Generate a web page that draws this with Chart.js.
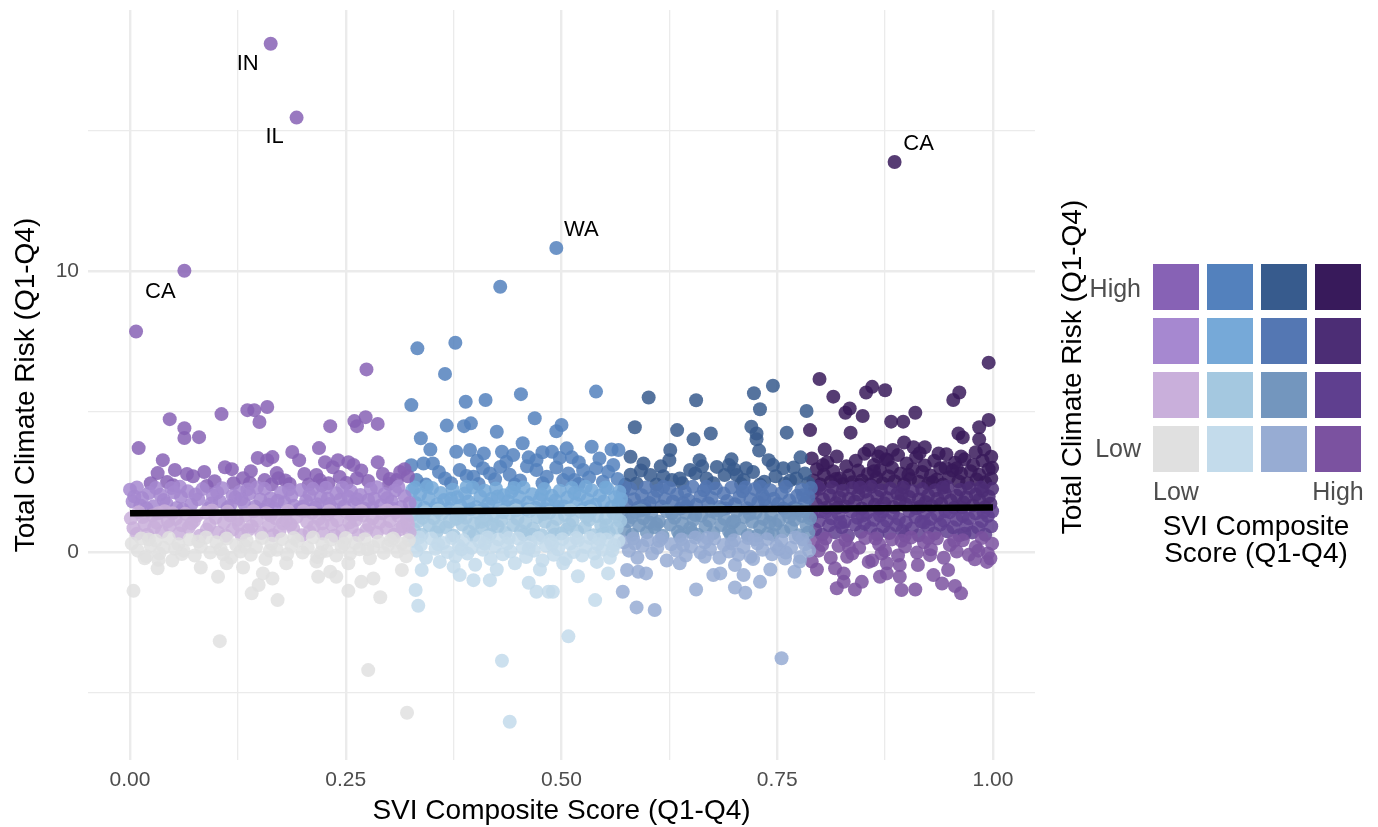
<!DOCTYPE html>
<html>
<head>
<meta charset="utf-8">
<title>SVI vs Total Climate Risk</title>
<script src="https://cdn.jsdelivr.net/npm/chart.js@4.4.1/dist/chart.umd.min.js"></script>
<style>
  body { margin: 0; background: #fff; font-family: "Liberation Sans", Arial, Helvetica, sans-serif; }
  #wrap { position: relative; width: 1378px; height: 827px; overflow: hidden; }
  #chart { position: absolute; left: 0; top: 0; }
  .lg { position: absolute; white-space: nowrap; }
  .tile { position: absolute; width: 44px; height: 44px; }
</style>
</head>
<body>
<div id="wrap">
  <canvas id="chart" width="1378" height="827"></canvas>
  <div id="legend"></div>
</div>
<script>
// Points: [SVI composite score, total climate risk]
// grouped by SVI column of the bivariate palette (Q1 = low ... Q4 = high)
const pointsSviQ1 = [
  [0.163,18.09],[0.193,15.46],[0.063,10.01],[0.007,7.85],[0.274,6.50],
  [0.046,4.73],[0.063,4.41],[0.063,4.06],[0.080,4.09],[0.010,3.70],[0.106,4.91],[0.136,5.05],[0.144,5.05],[0.159,5.16],[0.150,4.63],
  [0.232,4.48],[0.260,4.66],[0.273,4.80],[0.263,4.48],[0.287,4.56],[0.219,3.70],[0.188,3.56],[0.038,3.27],[0.032,2.81],[0.052,2.92],
  [0.066,2.78],[0.073,2.70],[0.043,2.49],[0.050,2.38],[0.089,2.35],[0.110,3.02],[0.118,2.95],[0.140,2.88],[0.148,3.35],[0.159,3.27],
  [0.165,3.38],[0.131,2.63],[0.139,2.46],[0.156,2.56],[0.164,2.40],[0.170,2.81],[0.172,2.63],[0.196,3.27],[0.202,2.78],[0.216,2.74],
  [0.207,2.40],[0.222,2.38],[0.226,3.20],[0.235,3.02],[0.241,3.27],[0.253,3.20],[0.259,3.10],[0.243,2.67],[0.251,2.46],[0.263,2.63],
  [0.276,2.53],[0.287,3.20],[0.293,2.78],[0.301,2.60],[0.313,2.85],[0.309,2.56],[0.185,2.42],[0.220,2.56],[0.318,2.95],[0.322,2.70],
  [0.098,2.52],[0.120,2.45],[0.024,2.45],[0.086,2.85],[0.180,2.55],[0.230,2.45],[0.268,2.90],[0.300,2.42],
  [0.000,2.22],[0.003,1.80],[0.014,1.92],[0.022,2.10],[0.027,1.63],[0.035,2.04],[0.042,1.74],[0.048,2.28],[0.054,1.57],[0.059,1.97],
  [0.067,2.16],[0.071,1.69],[0.079,1.88],[0.084,2.24],[0.091,1.56],[0.096,2.01],[0.104,1.81],[0.107,2.27],[0.116,1.65],[0.122,1.94],
  [0.127,2.14],[0.132,1.73],[0.138,2.07],[0.145,1.61],[0.151,1.87],[0.156,2.25],[0.163,1.91],[0.167,1.55],[0.175,2.11],[0.179,1.77],
  [0.187,2.00],[0.190,1.65],[0.198,2.21],[0.204,1.83],[0.208,2.04],[0.215,1.59],[0.221,1.96],[0.227,2.29],[0.231,1.71],[0.239,2.09],
  [0.244,1.87],[0.248,1.62],[0.256,2.17],[0.260,1.75],[0.267,2.03],[0.271,1.55],[0.279,2.24],[0.283,1.91],[0.291,1.67],[0.295,2.07],
  [0.303,1.81],[0.307,2.19],[0.314,1.60],[0.318,1.99],[0.012,1.66],[0.051,2.13],[0.094,1.73],[0.136,2.23],[0.171,1.83],[0.217,1.70],
  [0.253,1.97],[0.286,2.31],[0.304,1.54],[0.061,1.52],[0.119,2.01],[0.154,1.51],[0.236,1.53],[0.276,1.85],[0.196,1.52],[0.005,1.98],
  [0.008,2.30],[0.019,1.55],[0.030,2.28],[0.039,1.85],[0.058,2.32],[0.076,2.05],[0.101,2.12],[0.113,1.58],[0.129,1.88],[0.147,2.30],
  [0.160,1.68],[0.184,2.22],[0.201,1.62],[0.212,2.25],[0.229,1.90],[0.246,2.30],[0.263,1.88],[0.281,1.58],[0.298,1.92],[0.311,2.32],
  [0.324,1.75],
  [0.001,1.20],[0.004,0.85],[0.010,1.42],[0.017,0.98],[0.020,0.62],[0.026,1.30],[0.031,1.05],[0.037,0.72],[0.040,1.45],[0.046,0.93],
  [0.053,1.18],[0.057,0.66],[0.064,1.36],[0.068,0.88],[0.074,1.10],[0.081,0.58],[0.087,1.40],[0.092,0.97],[0.099,1.22],[0.102,0.70],
  [0.109,1.05],[0.113,1.44],[0.119,0.80],[0.124,1.15],[0.129,0.62],[0.134,1.32],[0.141,0.92],[0.147,1.12],[0.152,0.68],[0.158,1.38],
  [0.161,0.95],[0.169,1.20],[0.173,0.74],[0.177,1.02],[0.183,1.46],[0.189,0.84],[0.193,1.25],[0.199,0.60],[0.205,1.08],[0.211,1.40],
  [0.213,0.90],[0.219,1.18],[0.224,0.66],[0.229,1.33],[0.234,0.98],[0.240,1.12],[0.246,0.75],[0.251,1.42],[0.257,0.88],[0.262,1.15],
  [0.265,0.60],[0.270,1.30],[0.277,0.96],[0.281,1.20],[0.286,0.70],[0.292,1.38],[0.297,0.86],[0.301,1.10],[0.306,0.62],[0.311,1.28],
  [0.316,0.92],[0.321,1.15],[0.008,0.65],[0.033,1.38],[0.060,0.95],[0.077,1.28],[0.111,0.58],[0.143,1.45],[0.166,0.60],[0.201,1.45],
  [0.237,0.58],[0.268,1.45],[0.298,1.48],[0.324,0.70],[0.044,1.10],[0.089,0.80],[0.126,0.98],[0.181,1.12],[0.223,1.02],[0.258,1.28],
  [0.312,0.80],[0.015,1.25],[0.028,0.88],[0.049,1.38],[0.071,1.02],[0.095,1.48],[0.116,1.30],[0.137,0.78],[0.163,1.30],[0.186,0.98],
  [0.208,0.72],[0.231,1.45],[0.254,1.05],[0.274,0.78],[0.289,1.05],[0.308,1.42],[0.322,0.98],
  [0.002,0.30],[0.009,0.05],[0.013,0.48],[0.019,-0.15],[0.024,0.22],[0.030,0.40],[0.034,-0.05],[0.039,0.15],[0.045,0.50],[0.049,-0.30],
  [0.056,0.28],[0.062,0.05],[0.069,0.45],[0.075,-0.12],[0.082,0.20],[0.088,0.52],[0.093,-0.02],[0.100,0.35],[0.105,0.10],[0.112,0.48],
  [0.117,-0.20],[0.123,0.25],[0.128,0.02],[0.135,0.42],[0.140,-0.10],[0.146,0.18],[0.153,0.50],[0.157,-0.25],[0.164,0.30],[0.170,0.08],
  [0.176,0.46],[0.182,-0.08],[0.187,0.22],[0.194,0.40],[0.200,-0.02],[0.206,0.15],[0.212,0.52],[0.217,-0.18],[0.223,0.28],[0.228,0.05],
  [0.233,0.44],[0.239,-0.12],[0.245,0.20],[0.250,0.50],[0.255,-0.05],[0.261,0.32],[0.266,0.10],[0.272,0.46],[0.278,-0.22],[0.282,0.18],
  [0.288,0.38],[0.294,-0.03],[0.299,0.25],[0.305,0.48],[0.310,0.02],[0.315,0.30],[0.320,-0.15],[0.323,0.42],
  [0.022,0.45],[0.052,0.12],[0.079,0.38],[0.108,-0.08],[0.133,0.22],[0.162,0.05],[0.190,0.50],[0.221,-0.02],[0.248,0.30],[0.275,0.10],
  [0.302,0.42],[0.318,0.15],
  [0.004,-1.38],[0.017,-0.22],[0.033,-0.28],[0.032,-0.58],[0.060,-0.07],[0.082,-0.55],[0.102,-0.88],[0.104,-3.17],[0.112,-0.40],
  [0.131,-0.55],[0.141,-1.47],[0.149,-1.17],[0.154,-0.76],[0.165,-0.94],[0.171,-1.71],[0.181,-0.40],[0.216,-0.34],[0.218,-0.88],
  [0.232,-0.70],[0.239,-0.88],[0.253,-1.38],[0.253,-0.40],[0.268,-1.06],[0.276,-4.20],[0.282,-0.94],[0.290,-1.61],[0.315,-0.64],
  [0.321,-5.72]
];

const pointsSviQ2 = [
  [0.494,10.82],[0.429,9.44],[0.333,7.25],[0.377,7.45],[0.365,6.34],[0.326,5.23],[0.389,5.35],[0.412,5.41],[0.453,5.62],[0.540,5.71],
  [0.469,4.76],[0.500,4.52],[0.367,4.50],[0.387,4.48],[0.395,4.58],[0.425,4.28],[0.494,4.30],[0.337,4.05],[0.348,3.65],[0.378,3.57],
  [0.394,3.63],[0.410,3.51],[0.431,3.57],[0.444,3.45],[0.455,3.87],[0.462,3.37],[0.471,3.27],[0.489,3.57],[0.506,3.69],[0.512,3.37],
  [0.535,3.75],[0.544,3.33],[0.326,3.09],[0.340,3.15],[0.351,3.15],[0.365,2.62],[0.382,2.92],[0.398,2.68],[0.409,2.98],[0.423,2.59],
  [0.429,3.03],[0.436,3.21],[0.446,2.40],[0.471,2.92],[0.483,2.68],[0.494,3.01],[0.502,2.56],[0.515,2.56],[0.525,2.92],[0.540,2.98],
  [0.554,2.86],[0.390,2.71],[0.332,2.56],[0.566,3.63],
  [0.358,2.85],[0.372,2.45],[0.404,2.42],[0.417,2.80],[0.440,2.75],[0.452,2.55],[0.460,3.05],[0.478,2.45],[0.508,2.80],[0.520,2.42],
  [0.532,2.65],[0.548,2.50],[0.560,3.10],[0.565,2.60],[0.343,2.40],[0.478,3.55],[0.520,3.20],[0.558,3.65],[0.498,3.35],[0.402,3.25],
  [0.327,2.20],[0.331,1.75],[0.336,2.05],[0.341,1.58],[0.346,1.92],[0.350,2.28],[0.356,1.70],[0.360,2.10],[0.364,1.85],[0.369,1.55],
  [0.374,2.22],[0.379,1.95],[0.383,1.65],[0.388,2.08],[0.392,1.80],[0.397,2.30],[0.401,1.60],[0.406,1.98],[0.411,2.18],[0.415,1.72],
  [0.419,1.90],[0.424,2.26],[0.428,1.56],[0.433,2.02],[0.438,1.82],[0.442,2.14],[0.447,1.66],[0.451,1.96],[0.456,2.30],[0.461,1.76],
  [0.466,2.06],[0.470,1.58],[0.475,1.88],[0.480,2.24],[0.484,1.70],[0.489,2.00],[0.493,1.84],[0.498,2.18],[0.503,1.62],[0.507,1.94],
  [0.512,2.28],[0.517,1.74],[0.521,2.04],[0.526,1.55],[0.530,1.86],[0.535,2.20],[0.539,1.68],[0.544,2.00],[0.549,1.80],[0.553,2.26],
  [0.558,1.60],[0.562,1.95],[0.567,2.15],[0.344,2.32],[0.395,1.52],[0.437,1.60],[0.482,1.52],[0.528,2.32],[0.566,1.72],
  [0.330,2.30],[0.353,1.55],[0.372,1.90],[0.390,2.32],[0.409,1.52],[0.426,1.98],[0.445,2.28],[0.459,1.52],[0.477,2.05],[0.496,1.60],
  [0.515,2.10],[0.533,1.62],[0.551,2.30],[0.569,1.88],
  [0.326,1.30],[0.329,0.80],[0.334,1.10],[0.338,0.62],[0.342,1.42],[0.347,0.95],[0.352,1.20],[0.355,0.70],[0.361,1.35],[0.366,0.88],
  [0.370,1.08],[0.375,0.58],[0.380,1.45],[0.385,0.98],[0.389,1.22],[0.393,0.72],[0.399,1.02],[0.403,1.40],[0.408,0.85],[0.413,1.15],
  [0.417,0.62],[0.421,1.30],[0.426,0.92],[0.430,1.12],[0.435,0.68],[0.440,1.38],[0.444,0.96],[0.449,1.18],[0.453,0.75],[0.458,1.05],
  [0.463,1.46],[0.467,0.84],[0.472,1.25],[0.477,0.60],[0.481,1.08],[0.486,1.40],[0.490,0.90],[0.495,1.18],[0.500,0.66],[0.504,1.32],
  [0.509,0.98],[0.513,1.12],[0.518,0.74],[0.523,1.42],[0.527,0.88],[0.532,1.15],[0.537,0.60],[0.541,1.28],[0.546,0.95],[0.551,1.20],
  [0.555,0.70],[0.560,1.38],[0.564,0.86],[0.568,1.10],[0.357,1.48],[0.398,0.58],[0.447,1.48],[0.492,0.62],[0.534,1.45],[0.378,1.18],
  [0.420,0.98],[0.466,0.62],[0.510,1.48],[0.552,0.95],[0.339,1.22],[0.358,0.90],[0.383,1.30],[0.407,1.08],[0.432,1.42],[0.456,0.62],
  [0.479,1.35],[0.506,0.80],[0.529,1.25],[0.548,0.65],[0.563,1.25],
  [0.328,0.40],[0.332,0.05],[0.337,0.25],[0.343,-0.20],[0.349,0.48],[0.354,0.12],[0.359,-0.35],[0.363,0.32],[0.368,0.00],[0.373,0.50],
  [0.377,-0.15],[0.381,0.22],[0.386,0.42],[0.391,-0.05],[0.396,0.15],[0.400,-0.45],[0.405,0.38],[0.409,0.08],[0.414,0.52],[0.418,-0.25],
  [0.423,0.20],[0.427,0.45],[0.432,-0.08],[0.437,0.30],[0.441,0.02],[0.446,-0.40],[0.450,0.48],[0.455,0.15],[0.459,-0.18],[0.464,0.35],
  [0.468,0.05],[0.473,0.50],[0.478,-0.30],[0.482,0.22],[0.487,0.40],[0.491,-0.10],[0.496,0.10],[0.501,0.46],[0.505,-0.25],[0.510,0.30],
  [0.514,0.00],[0.519,0.42],[0.524,-0.12],[0.528,0.18],[0.533,0.50],[0.538,-0.05],[0.542,0.28],[0.547,0.08],[0.552,0.45],[0.556,-0.20],
  [0.561,0.25],[0.566,0.40],[0.335,0.52],[0.357,0.28],[0.384,0.10],[0.411,0.30],[0.439,0.50],[0.462,0.12],[0.489,0.28],[0.517,0.50],
  [0.544,0.45],[0.559,0.05],
  [0.331,-1.35],[0.334,-1.91],[0.338,-0.64],[0.375,-0.52],[0.382,-0.82],[0.398,-1.00],[0.417,-1.00],[0.425,-0.62],[0.431,-3.87],
  [0.440,-6.04],[0.462,-1.09],[0.471,-1.41],[0.485,-1.41],[0.475,-0.62],[0.508,-3.00],[0.539,-1.71],[0.519,-0.86],[0.502,-0.40],
  [0.541,-0.35],[0.554,-0.76],[0.490,-1.41]
];

const pointsSviQ3 = [
  [0.601,5.50],[0.656,5.40],[0.723,5.65],[0.745,5.92],[0.730,5.08],[0.784,5.02],[0.585,4.44],[0.634,4.34],[0.720,4.46],[0.726,4.22],
  [0.761,4.25],[0.673,4.22],[0.653,4.01],[0.726,4.01],[0.729,3.61],[0.740,3.27],[0.757,2.98],[0.777,3.37],[0.626,3.63],[0.660,3.27],
  [0.697,3.30],[0.714,2.98],[0.625,3.27],[0.595,3.15],[0.603,2.74],[0.580,3.39],[0.574,2.40],[0.587,2.44],[0.610,2.40],[0.628,2.56],
  [0.637,2.62],[0.649,2.92],[0.668,2.62],[0.680,3.03],[0.689,2.74],[0.703,2.74],[0.711,2.56],[0.759,2.44],[0.769,3.01],
  [0.592,2.90],[0.615,3.05],[0.640,2.45],[0.655,2.80],[0.676,2.45],[0.694,3.10],[0.708,2.42],[0.722,2.85],[0.735,2.50],[0.748,2.70],
  [0.765,2.55],[0.782,2.80],[0.786,2.45],[0.618,2.70],[0.663,3.05],[0.700,2.95],[0.745,3.10],[0.580,2.75],[0.730,2.40],[0.772,2.62],
  [0.571,2.10],[0.575,1.70],[0.580,2.25],[0.584,1.88],[0.589,1.58],[0.593,2.02],[0.598,2.30],[0.602,1.75],[0.607,1.95],[0.611,2.18],
  [0.616,1.62],[0.620,1.90],[0.625,2.28],[0.629,1.80],[0.634,2.05],[0.638,1.55],[0.643,2.15],[0.647,1.85],[0.652,2.32],[0.656,1.68],
  [0.661,1.98],[0.665,2.20],[0.670,1.74],[0.674,1.92],[0.679,2.26],[0.683,1.60],[0.688,2.08],[0.692,1.82],[0.697,2.30],[0.701,1.70],
  [0.706,1.96],[0.710,2.16],[0.715,1.56],[0.719,1.88],[0.724,2.24],[0.728,1.78],[0.733,2.02],[0.737,1.64],[0.742,2.20],[0.746,1.90],
  [0.751,1.72],[0.755,2.10],[0.760,2.32],[0.764,1.84],[0.769,1.58],[0.773,2.00],[0.778,2.22],[0.782,1.76],[0.786,1.95],[0.789,2.28],
  [0.597,1.52],[0.641,1.75],[0.686,1.52],[0.731,2.32],[0.775,1.52],
  [0.573,2.30],[0.596,1.65],[0.618,2.32],[0.645,1.62],[0.668,2.32],[0.690,1.55],[0.713,2.30],[0.735,1.88],[0.757,1.55],[0.780,2.02],
  [0.570,1.30],[0.573,0.80],[0.577,1.10],[0.582,0.62],[0.586,1.42],[0.590,0.95],[0.595,1.20],[0.599,0.70],[0.604,1.35],[0.608,0.88],
  [0.613,1.08],[0.617,0.58],[0.622,1.45],[0.626,0.98],[0.631,1.22],[0.635,0.72],[0.640,1.02],[0.644,1.40],[0.649,0.85],[0.653,1.15],
  [0.658,0.62],[0.662,1.30],[0.667,0.92],[0.671,1.12],[0.676,0.68],[0.680,1.38],[0.685,0.96],[0.689,1.18],[0.694,0.75],[0.698,1.05],
  [0.703,1.46],[0.707,0.84],[0.712,1.25],[0.716,0.60],[0.721,1.08],[0.725,1.40],[0.730,0.90],[0.734,1.18],[0.739,0.66],[0.743,1.32],
  [0.748,0.98],[0.752,1.12],[0.757,0.74],[0.761,1.42],[0.766,0.88],[0.770,1.15],[0.775,0.60],[0.779,1.28],[0.784,0.95],[0.788,1.20],
  [0.592,1.48],[0.637,0.58],[0.683,1.48],[0.727,0.58],[0.772,1.48],[0.610,1.00],[0.655,1.32],[0.700,1.10],[0.745,0.62],[0.781,1.45],
  [0.581,1.25],[0.602,1.05],[0.628,1.38],[0.651,0.70],[0.674,1.45],[0.696,0.62],[0.718,1.35],[0.741,1.05],[0.764,1.25],[0.786,0.70],
  [0.572,0.35],[0.578,0.05],[0.583,0.48],[0.588,-0.20],[0.594,0.22],[0.600,0.42],[0.605,-0.05],[0.611,0.15],[0.616,0.50],[0.622,-0.30],
  [0.627,0.28],[0.633,0.05],[0.639,0.45],[0.644,-0.12],[0.650,0.20],[0.655,0.52],[0.661,-0.02],[0.666,0.35],[0.672,0.10],[0.677,0.48],
  [0.683,-0.20],[0.688,0.25],[0.694,0.02],[0.700,0.42],[0.705,-0.10],[0.711,0.18],[0.716,0.50],[0.722,-0.25],[0.727,0.30],[0.733,0.08],
  [0.738,0.46],[0.744,-0.08],[0.749,0.22],[0.755,0.40],[0.760,-0.02],[0.766,0.15],[0.771,0.52],[0.777,-0.18],[0.782,0.28],[0.787,0.05],
  [0.585,0.30],[0.613,0.40],[0.641,0.25],[0.669,0.50],[0.697,0.30],[0.724,0.45],[0.752,0.10],[0.779,0.45],
  [0.571,-1.41],[0.587,-1.97],[0.608,-2.06],[0.576,-0.64],[0.589,-0.70],[0.598,-0.76],[0.637,-0.40],[0.656,-1.33],[0.676,-0.82],
  [0.684,-0.76],[0.701,-0.46],[0.711,-0.82],[0.701,-1.26],[0.713,-1.45],[0.730,-1.06],[0.742,-0.62],[0.755,-3.78],[0.770,-0.70],
  [0.776,-0.34],[0.719,-0.17],[0.759,-0.23],[0.666,-0.17]
];

const pointsSviQ4 = [
  [0.886,13.88],[0.995,6.74],[0.799,6.16],[0.815,5.53],[0.860,5.88],[0.853,5.68],[0.875,5.76],[0.961,5.68],[0.954,5.41],[0.834,5.11],
  [0.829,4.96],[0.849,4.84],[0.910,4.96],[0.882,4.64],[0.896,4.64],[0.995,4.70],[0.984,4.44],[0.984,4.01],[0.960,4.22],[0.965,4.08],
  [0.835,4.25],[0.788,4.34],[0.805,3.65],[0.790,3.33],[0.856,3.63],[0.897,3.90],[0.908,3.73],[0.921,3.73],[0.884,3.63],[0.937,3.51],
  [0.998,3.39],[0.803,3.10],[0.867,3.40],[0.878,3.28],[0.963,3.40],
  [0.792,2.55],[0.796,2.95],[0.800,2.40],[0.804,2.75],[0.808,3.20],[0.812,2.50],[0.815,2.88],[0.819,3.40],[0.823,2.62],[0.826,2.42],
  [0.830,3.05],[0.833,2.72],[0.837,2.48],[0.841,3.25],[0.844,2.90],[0.848,2.55],[0.851,3.50],[0.855,2.78],[0.858,2.40],[0.862,3.10],
  [0.865,2.65],[0.869,2.92],[0.872,2.45],[0.876,3.30],[0.879,2.70],[0.883,3.00],[0.886,2.52],[0.890,3.45],[0.893,2.80],[0.897,2.42],
  [0.900,3.15],[0.904,2.60],[0.907,2.95],[0.911,3.38],[0.914,2.50],[0.918,2.85],[0.921,3.08],[0.925,2.44],[0.928,2.72],[0.932,3.25],
  [0.935,2.58],[0.939,2.98],[0.942,2.40],[0.946,3.48],[0.949,2.66],[0.953,2.90],[0.956,3.18],[0.960,2.52],[0.963,2.80],[0.967,3.30],
  [0.970,2.45],[0.974,2.88],[0.977,3.10],[0.981,2.58],[0.984,2.75],[0.988,3.25],[0.991,2.48],[0.995,2.95],[0.998,2.62],[0.818,2.60],
  [0.845,2.40],[0.870,3.55],[0.902,2.75],[0.930,2.48],[0.958,2.98],[0.980,3.55],[0.999,3.00],[0.862,2.88],[0.915,3.52],[0.945,3.00],
  [0.990,3.65],
  [0.791,2.10],[0.795,1.70],[0.799,2.25],[0.803,1.88],[0.807,1.58],[0.811,2.02],[0.814,2.30],[0.818,1.75],[0.822,1.95],[0.826,2.18],
  [0.829,1.62],[0.833,1.90],[0.837,2.28],[0.840,1.80],[0.844,2.05],[0.848,1.55],[0.852,2.15],[0.855,1.85],[0.859,2.32],[0.863,1.68],
  [0.866,1.98],[0.870,2.20],[0.874,1.74],[0.877,1.92],[0.881,2.26],[0.885,1.60],[0.889,2.08],[0.892,1.82],[0.896,2.30],[0.899,1.70],
  [0.903,1.96],[0.907,2.16],[0.911,1.56],[0.914,1.88],[0.918,2.24],[0.922,1.78],[0.925,2.02],[0.929,1.64],[0.933,2.20],[0.936,1.90],
  [0.940,1.72],[0.944,2.10],[0.947,2.32],[0.951,1.84],[0.955,1.58],[0.958,2.00],[0.962,2.22],[0.966,1.76],[0.969,1.95],[0.973,2.28],
  [0.977,1.66],[0.980,2.05],[0.984,1.86],[0.988,2.18],[0.991,1.60],[0.995,1.98],[0.999,2.25],
  [0.797,2.32],[0.820,1.58],[0.846,2.30],[0.868,1.55],[0.894,2.05],[0.916,1.62],[0.942,2.30],[0.964,1.58],[0.986,2.30],[0.997,1.72],
  [0.790,1.30],[0.794,0.80],[0.798,1.10],[0.802,0.62],[0.806,1.42],[0.810,0.95],[0.813,1.20],[0.817,0.70],[0.821,1.35],[0.825,0.88],
  [0.828,1.08],[0.832,0.58],[0.836,1.45],[0.840,0.98],[0.843,1.22],[0.847,0.72],[0.851,1.02],[0.854,1.40],[0.858,0.85],[0.862,1.15],
  [0.866,0.62],[0.869,1.30],[0.873,0.92],[0.877,1.12],[0.880,0.68],[0.884,1.38],[0.888,0.96],[0.891,1.18],[0.895,0.75],[0.899,1.05],
  [0.903,1.46],[0.906,0.84],[0.910,1.25],[0.914,0.60],[0.917,1.08],[0.921,1.40],[0.925,0.90],[0.928,1.18],[0.932,0.66],[0.936,1.32],
  [0.939,0.98],[0.943,1.12],[0.947,0.74],[0.950,1.42],[0.954,0.88],[0.958,1.15],[0.961,0.60],[0.965,1.28],[0.969,0.95],[0.972,1.20],
  [0.976,0.70],[0.980,1.38],[0.983,0.86],[0.987,1.10],[0.991,0.62],[0.994,1.28],[0.998,0.92],[0.999,1.45],
  [0.800,1.45],[0.823,1.05],[0.849,1.30],[0.872,1.45],[0.898,0.58],[0.920,1.05],[0.945,1.45],[0.967,0.65],[0.989,1.42],
  [0.792,0.35],[0.798,0.05],[0.806,0.48],[0.812,-0.20],[0.821,0.22],[0.829,0.42],[0.837,-0.05],[0.845,0.15],[0.852,0.50],[0.860,-0.30],
  [0.868,0.28],[0.875,0.05],[0.883,0.45],[0.890,-0.12],[0.898,0.20],[0.905,0.52],[0.912,-0.02],[0.920,0.35],[0.928,0.10],[0.935,0.48],
  [0.943,-0.20],[0.950,0.25],[0.958,0.02],[0.965,0.42],[0.972,-0.10],[0.980,0.18],[0.987,0.50],[0.994,-0.05],[0.999,0.30],
  [0.802,0.25],[0.833,0.18],[0.864,0.48],[0.894,0.40],[0.925,0.50],[0.955,0.40],[0.983,0.05],
  [0.790,-0.34],[0.796,-0.62],[0.817,-0.58],[0.827,-0.76],[0.819,-1.29],[0.827,-1.06],[0.840,-1.33],[0.848,-1.06],[0.856,-0.35],
  [0.871,-0.05],[0.877,-0.40],[0.869,-0.88],[0.877,-0.76],[0.892,-0.46],[0.892,-0.88],[0.894,-1.35],[0.910,-1.33],[0.913,-0.46],
  [0.927,-0.11],[0.931,-0.82],[0.941,-1.12],[0.948,-0.64],[0.956,-1.21],[0.963,-1.47],[0.979,-0.26],[0.997,-0.23],[0.993,-0.35],
  [0.831,-0.17]
];

// Linear fit drawn over the points
const fitSvi = [0.0, 1.0];
const fitRisk = [1.38, 1.59];

// Labelled outliers
const labelNames = ['IN', 'IL', 'CA', 'WA', 'CA'];
const labelSvi = [0.163, 0.193, 0.063, 0.494, 0.886];
const labelRisk = [18.09, 15.46, 10.01, 10.82, 13.88];
const labelOffsets = [[-23, 20], [-22, 19], [-24, 21], [25, -18], [24, -18]];

// Bivariate palette: palette[sviColumn][riskRow], rows low -> high
const palette = [
  ['#e0e0e0', '#c9afdb', '#a688d0', '#8762b5'],
  ['#c3dbeb', '#a4c8e0', '#76a9d8', '#5381bd'],
  ['#97acd3', '#7396be', '#5477b3', '#375b8d'],
  ['#7b52a0', '#5f3f8f', '#4c2d75', '#381a5b']
];
const riskBreaks = [0.55, 1.5, 2.35];
const levelLabels = ['Low', 'High'];

const FONT = '"Liberation Sans", Arial, Helvetica, sans-serif';

function riskRow(v) {
  let r = 0;
  riskBreaks.forEach(b => { if (v >= b) r++; });
  return r;
}
function withAlpha(hex, a) {
  const n = parseInt(hex.slice(1), 16);
  return 'rgba(' + (n >> 16) + ',' + ((n >> 8) & 255) + ',' + (n & 255) + ',' + a + ')';
}

const groups = [pointsSviQ1, pointsSviQ2, pointsSviQ3, pointsSviQ4];
const pointSets = groups.map((pts, col) => ({
  type: 'scatter',
  data: pts.map(p => ({ x: p[0], y: p[1] })),
  backgroundColor: ctx => withAlpha(palette[col][riskRow(ctx.raw ? ctx.raw.y : 0)], 0.85),
  borderWidth: 0,
  pointRadius: 7,
  pointHoverRadius: 7,
  order: 1
}));

const fitLine = {
  type: 'line',
  data: fitSvi.map((v, i) => ({ x: v, y: fitRisk[i] })),
  borderColor: '#000',
  borderWidth: 6.5,
  pointRadius: 0,
  fill: false,
  order: 0
};

const labelPlugin = {
  id: 'stateLabels',
  afterDatasetsDraw(chart) {
    const { ctx, scales } = chart;
    ctx.save();
    ctx.font = '22px ' + FONT;
    ctx.fillStyle = '#000';
    ctx.textAlign = 'center';
    ctx.textBaseline = 'middle';
    labelNames.forEach((name, i) => {
      const px = scales.x.getPixelForValue(labelSvi[i]) + labelOffsets[i][0];
      const py = scales.y.getPixelForValue(labelRisk[i]) + labelOffsets[i][1];
      ctx.fillText(name, px, py);
    });
    ctx.restore();
  }
};

const isMultiple = (v, step) => Math.abs(v / step - Math.round(v / step)) < 1e-6;

new Chart(document.getElementById('chart'), {
  type: 'scatter',
  data: { datasets: [fitLine].concat(pointSets) },
  options: {
    responsive: false,
    animation: false,
    layout: { padding: { left: 0, right: 343, top: 10, bottom: 0 } },
    plugins: { legend: { display: false }, tooltip: { enabled: false } },
    scales: {
      x: {
        type: 'linear',
        min: -0.0487,
        max: 1.0487,
        afterFit: s => { s.height = 67; s.paddingLeft = 0; s.paddingRight = 0; },
        border: { display: false },
        grid: {
          color: '#ebebeb',
          drawTicks: false,
          lineWidth: ctx => (ctx.tick && isMultiple(ctx.tick.value, 0.25)) ? 2.4 : 1.3
        },
        ticks: {
          stepSize: 0.125,
          includeBounds: false,
          autoSkip: false,
          maxRotation: 0,
          padding: 8,
          color: '#4d4d4d',
          font: { family: FONT, size: 21 },
          callback: v => isMultiple(v, 0.25) ? v.toFixed(2) : ''
        },
        title: {
          display: true,
          text: 'SVI Composite Score (Q1-Q4)',
          color: '#000',
          font: { family: FONT, size: 28, lineHeight: 1 },
          padding: { top: 0, bottom: 2 }
        }
      },
      y: {
        type: 'linear',
        min: -7.4,
        max: 19.29,
        afterFit: s => { s.width = 88; s.paddingTop = 0; s.paddingBottom = 0; },
        border: { display: false },
        grid: {
          color: '#ebebeb',
          drawTicks: false,
          lineWidth: ctx => (ctx.tick && isMultiple(ctx.tick.value, 10)) ? 2.4 : 1.3
        },
        ticks: {
          stepSize: 5,
          includeBounds: false,
          autoSkip: false,
          padding: 9,
          color: '#4d4d4d',
          font: { family: FONT, size: 21 },
          callback: v => isMultiple(v, 10) ? String(v) : ''
        },
        title: {
          display: true,
          text: 'Total Climate Risk (Q1-Q4)',
          color: '#000',
          font: { family: FONT, size: 28, lineHeight: 1 },
          padding: { top: 12, bottom: 0 }
        }
      }
    }
  },
  plugins: [labelPlugin]
});

// Bivariate legend, built as HTML next to the plot
const legend = document.getElementById('legend');
function addText(text, css) {
  const d = document.createElement('div');
  d.className = 'lg';
  d.textContent = text;
  Object.assign(d.style, css);
  legend.appendChild(d);
  return d;
}
const tileLeft = 1153, tileTop = 264, tileStep = 54;
palette.forEach((colColors, col) => {
  colColors.forEach((c, row) => {
    const t = document.createElement('div');
    t.className = 'tile';
    t.style.left = (tileLeft + col * tileStep) + 'px';
    t.style.top = (tileTop + (3 - row) * tileStep) + 'px';
    t.style.background = c;
    t.style.border = '1px solid ' + withAlpha(c, 0.45);
    legend.appendChild(t);
  });
});
const small = { fontSize: '25px', lineHeight: '25px', color: '#4d4d4d', fontFamily: FONT };
addText(levelLabels[1], Object.assign({ right: (1378 - 1141) + 'px', top: '276px' }, small));
addText(levelLabels[0], Object.assign({ right: (1378 - 1141) + 'px', top: '436px' }, small));
addText(levelLabels[0], Object.assign({ left: '1176px', top: '479px', transform: 'translateX(-50%)' }, small));
addText(levelLabels[1], Object.assign({ left: '1338px', top: '479px', transform: 'translateX(-50%)' }, small));
addText('SVI Composite\nScore (Q1-Q4)', {
  left: '1256px', top: '512px', transform: 'translateX(-50%)', whiteSpace: 'pre', textAlign: 'center',
  fontSize: '28px', lineHeight: '27px', color: '#000', fontFamily: FONT
});
addText('Total Climate Risk (Q1-Q4)', {
  left: '1072px', top: '367px', transform: 'translate(-50%, -50%) rotate(-90deg)',
  fontSize: '28px', lineHeight: '28px', color: '#000', fontFamily: FONT
});
</script>
</body>
</html>
